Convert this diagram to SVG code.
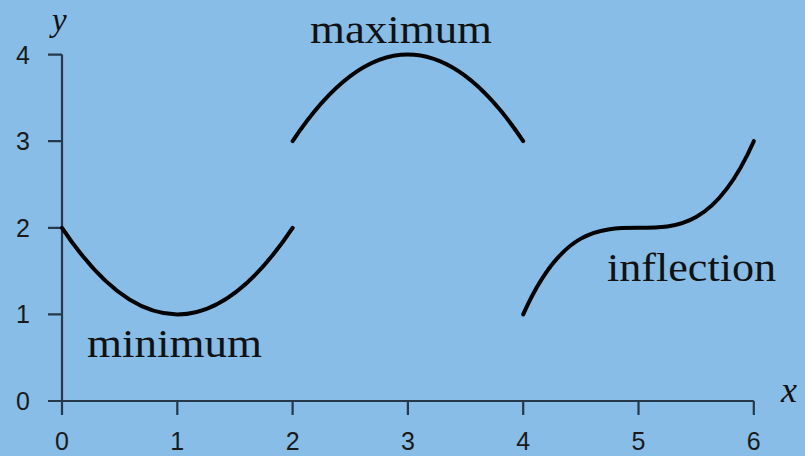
<svg xmlns="http://www.w3.org/2000/svg" width="805" height="456" viewBox="0 0 805 456">
<style>
.axis{stroke:#26384a;stroke-width:2.2;fill:none}
.curve{stroke:#000;stroke-width:4;fill:none;stroke-linecap:round}
.tick{font-family:"Liberation Sans",Arial,sans-serif;font-size:25px;fill:#1a1a1a;text-anchor:middle}
.lbl{font-family:"Liberation Serif","Times New Roman",serif;font-size:40px;fill:#111}
.var{font-family:"Liberation Serif","Times New Roman",serif;font-style:italic;font-size:36px;fill:#111}
</style>
<rect width="805" height="456" fill="#87bde6"/>
<g id="axes">
<path class="axis" d="M62,54.6 V401 M48,401 H753.8 M48,54.6 H62 M48,141.2 H62 M48,227.8 H62 M48,314.4 H62 M62,401 V415 M177.3,401 V415 M292.6,401 V415 M407.9,401 V415 M523.2,401 V415 M638.5,401 V415 M753.8,401 V415"/>
<text class="tick" x="23" y="63.6">4</text>
<text class="tick" x="23" y="150.2">3</text>
<text class="tick" x="23" y="236.8">2</text>
<text class="tick" x="23" y="323.4">1</text>
<text class="tick" x="23" y="410">0</text>
<text class="tick" x="62" y="450">0</text>
<text class="tick" x="177.3" y="450">1</text>
<text class="tick" x="292.6" y="450">2</text>
<text class="tick" x="407.9" y="450">3</text>
<text class="tick" x="523.2" y="450">4</text>
<text class="tick" x="638.5" y="450">5</text>
<text class="tick" x="753.8" y="450">6</text>
<text class="var" x="52" y="31" style="font-size:33px">y</text>
<text class="var" x="781" y="402">x</text>
</g>
<g id="curves">
<path id="min-curve" class="curve" d="M62,227.8 Q177.3,401 292.6,227.8"/>
<path id="max-curve" class="curve" d="M292.6,141.2 Q407.9,-32 523.2,141.2"/>
<path id="infl-curve" class="curve" d="M523.2,314.4 C600.07,141.2 676.93,314.4 753.8,141.2"/>
</g>
<g id="labels">
<text class="lbl" x="310" y="43" textLength="182" lengthAdjust="spacingAndGlyphs">maximum</text>
<text class="lbl" x="87" y="357" textLength="175" lengthAdjust="spacingAndGlyphs">minimum</text>
<text class="lbl" x="607" y="281" textLength="169" lengthAdjust="spacingAndGlyphs">inflection</text>
</g>
</svg>
